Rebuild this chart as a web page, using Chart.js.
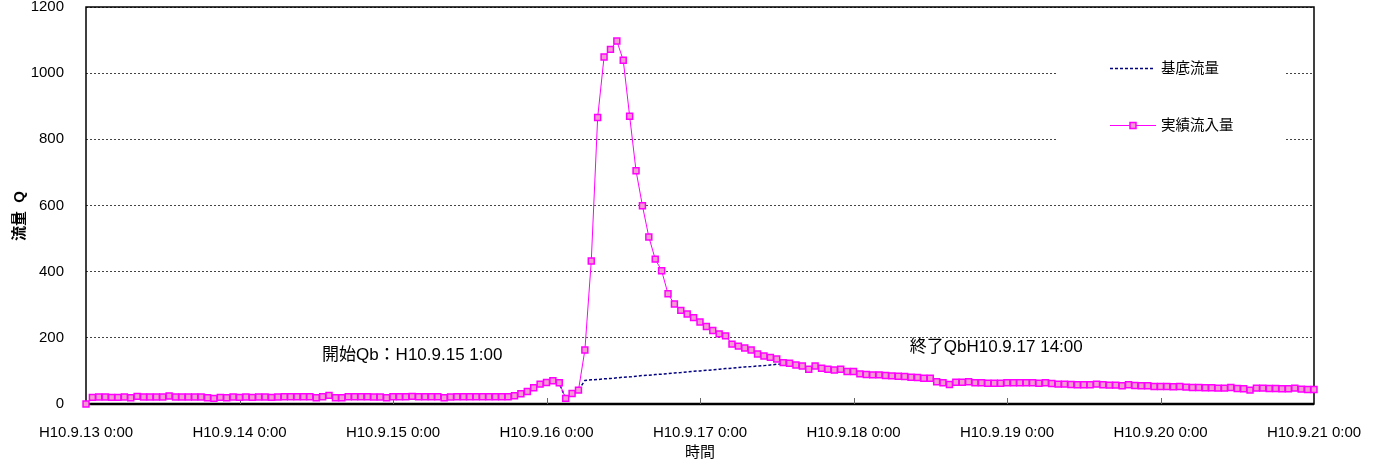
<!DOCTYPE html>
<html>
<head>
<meta charset="utf-8">
<script src="https://cdn.jsdelivr.net/npm/chart.js@4"></script>
<style>
  body { margin: 0; background: #fff; }
  #wrap { width: 1382px; height: 466px; }
</style>
</head>
<body>
<div id="wrap"><canvas id="flowChart"></canvas></div>
<script>
// hourly values from H10.9.13 0:00 (index 0) to H10.9.21 0:00 (index 192)
const dayLabels = ['H10.9.13 0:00', 'H10.9.14 0:00', 'H10.9.15 0:00', 'H10.9.16 0:00', 'H10.9.17 0:00',
  'H10.9.18 0:00', 'H10.9.19 0:00', 'H10.9.20 0:00', 'H10.9.21 0:00'];

const inflow = [
  0,
  20, 21, 21, 20, 20, 21, 19, 23, 21, 21, 21, 21, 24, 21, 21, 21, 21, 21, 19, 17, 20, 19, 21, 20, 21, 20, 21, 21, 20, 21,
  22, 22, 22, 22, 22, 19, 22, 26, 19, 19, 22, 22, 22, 22, 21, 21, 19, 22, 22, 22, 23, 22, 22, 22, 22, 19, 21, 22, 22, 22, 22, 22, 22, 22, 22, 22,
  25, 31, 38, 49, 60, 65, 70, 64, 17, 32, 42,
  163, 432, 866, 1049, 1072, 1097, 1039, 870, 705, 599, 505, 438, 403, 333, 302, 283, 272, 261, 248, 234, 222, 212, 206,
  181, 175, 169, 163, 151, 145, 141, 136, 125, 123,
  118, 115, 105, 115, 108, 105, 103, 105, 98, 98, 91, 89, 88, 88, 86, 85, 84, 83, 81, 80, 78, 78,
  67, 64, 59, 66, 66, 67, 64, 64, 63, 63, 63, 64, 64, 64, 64, 64, 63, 64, 62,
  60, 60, 59, 58, 58, 58, 60, 58, 57, 57, 55, 58, 56, 55, 55, 53, 53, 53, 52, 53,
  51, 50, 50, 49, 49, 48, 48, 50, 47, 46, 42, 48, 48, 47, 47, 46, 46, 48, 45, 44, 44
];

// base flow starts at index 72 (H10.9.16 0:00), ends at index 110 (H10.9.17 14:00)
const baseStart = 72;
const baseflow = [
  62, 63, 62, 17, 32, 42,
  71, 73, 74, 76, 77, 79, 81, 82, 84, 86, 87, 89, 90, 92, 94, 95, 97, 99, 100, 102,
  103, 105, 107, 108, 110, 112, 113, 115, 116, 118, 120, 121, 123
];

const notes = [
  { text: '開始Qb：H10.9.15 1:00', x: 51, y: 148, align: 'center' },
  { text: '終了QbH10.9.17 14:00', x: 128.8, y: 172, align: 'left' }
];

const FONT = "'Liberation Sans', 'Noto Sans CJK JP', sans-serif";

const framePlugin = {
  id: 'frame',
  beforeDatasetsDraw(chart) {
    const { ctx, chartArea: a, scales } = chart;
    ctx.save();
    ctx.strokeStyle = '#000';
    ctx.lineWidth = 1.5;
    ctx.strokeRect(a.left, a.top, a.right - a.left, a.bottom - a.top);
    ctx.lineWidth = 2.5;
    ctx.beginPath();
    ctx.moveTo(a.left, a.bottom);
    ctx.lineTo(a.right, a.bottom);
    ctx.stroke();
    // inward day ticks
    ctx.lineWidth = 1;
    ctx.strokeStyle = '#666';
    for (let d = 1; d < dayLabels.length - 1; d++) {
      const px = Math.round(scales.x.getPixelForValue(d * 24)) + 0.5;
      ctx.beginPath();
      ctx.moveTo(px, a.bottom);
      ctx.lineTo(px, a.bottom - 6);
      ctx.stroke();
    }
    ctx.restore();
  },
  afterDraw(chart) {
    const { ctx, scales } = chart;
    ctx.save();
    // legend box
    ctx.fillStyle = '#fff';
    ctx.fillRect(1057, 35, 229, 130);
    ctx.lineWidth = 1.5;
    ctx.strokeStyle = '#000080';
    ctx.setLineDash([3, 2]);
    ctx.beginPath();
    ctx.moveTo(1110, 68.5);
    ctx.lineTo(1153, 68.5);
    ctx.stroke();
    ctx.setLineDash([]);
    ctx.lineWidth = 1;
    ctx.strokeStyle = '#ff00ff';
    ctx.beginPath();
    ctx.moveTo(1110, 125.5);
    ctx.lineTo(1156, 125.5);
    ctx.stroke();
    ctx.fillStyle = '#f39ccf';
    ctx.fillRect(1130, 122.5, 6, 6);
    ctx.lineWidth = 1.5;
    ctx.strokeRect(1130, 122.5, 6, 6);
    ctx.fillStyle = '#000';
    ctx.font = '14.5px ' + FONT;
    ctx.textBaseline = 'middle';
    ctx.textAlign = 'left';
    ctx.fillText('基底流量', 1161, 69);
    ctx.fillText('実績流入量', 1161, 126);
    // notes
    ctx.font = '17px ' + FONT;
    notes.forEach(n => {
      ctx.textAlign = n.align;
      ctx.fillText(n.text, scales.x.getPixelForValue(n.x), scales.y.getPixelForValue(n.y));
    });
    // y axis title
    ctx.translate(20, 216);
    ctx.rotate(-Math.PI / 2);
    ctx.textAlign = 'center';
    ctx.font = 'bold 15px ' + FONT;
    ctx.fillText('流量  Q', 0, 0);
    ctx.restore();
  }
};

new Chart(document.getElementById('flowChart'), {
  type: 'line',
  data: {
    datasets: [{
      label: '実績流入量',
      data: inflow.map((v, i) => ({ x: i, y: v })),
      borderColor: '#ff00ff',
      borderWidth: 1,
      pointStyle: 'rect',
      pointRadius: 4.2,
      pointBackgroundColor: '#f39ccf',
      pointBorderColor: '#ff00ff',
      pointBorderWidth: 1.5,
      tension: 0,
      clip: 8,
      order: 1
    }, {
      label: '基底流量',
      data: baseflow.map((v, k) => ({ x: baseStart + k, y: v })),
      borderColor: '#000080',
      borderWidth: 1.5,
      borderDash: [3, 2],
      pointRadius: 0,
      tension: 0,
      order: 2
    }]
  },
  options: {
    responsive: true,
    maintainAspectRatio: false,
    animation: false,
    layout: { padding: { top: 7, right: 68, left: 0, bottom: 0 } },
    plugins: { legend: { display: false }, tooltip: { enabled: false } },
    scales: {
      x: {
        type: 'linear',
        min: 0,
        max: 192,
        afterFit(s) { s.height = 62; s.paddingLeft = 0; s.paddingRight = 0; },
        afterBuildTicks(s) { s.ticks = dayLabels.map((_, d) => ({ value: d * 24 })); },
        ticks: {
          autoSkip: false,
          maxRotation: 0,
          padding: 12,
          color: '#000',
          font: { size: 15, family: FONT },
          callback: v => dayLabels[v / 24]
        },
        grid: { display: false },
        border: { display: false },
        title: { display: true, text: '時間', color: '#000', font: { size: 15, family: FONT }, padding: { top: 0, bottom: 4 } }
      },
      y: {
        min: 0,
        max: 1200,
        afterFit(s) { s.width = 86; s.paddingTop = 0; s.paddingBottom = 0; },
        ticks: { stepSize: 200, padding: 22, color: '#000', font: { size: 15, family: FONT }, callback: v => String(v) },
        grid: { color: '#444', lineWidth: 1, drawTicks: false },
        border: { display: false, dash: [2, 2] },
        title: { display: false }
      }
    }
  },
  plugins: [framePlugin]
});
</script>
</body>
</html>
